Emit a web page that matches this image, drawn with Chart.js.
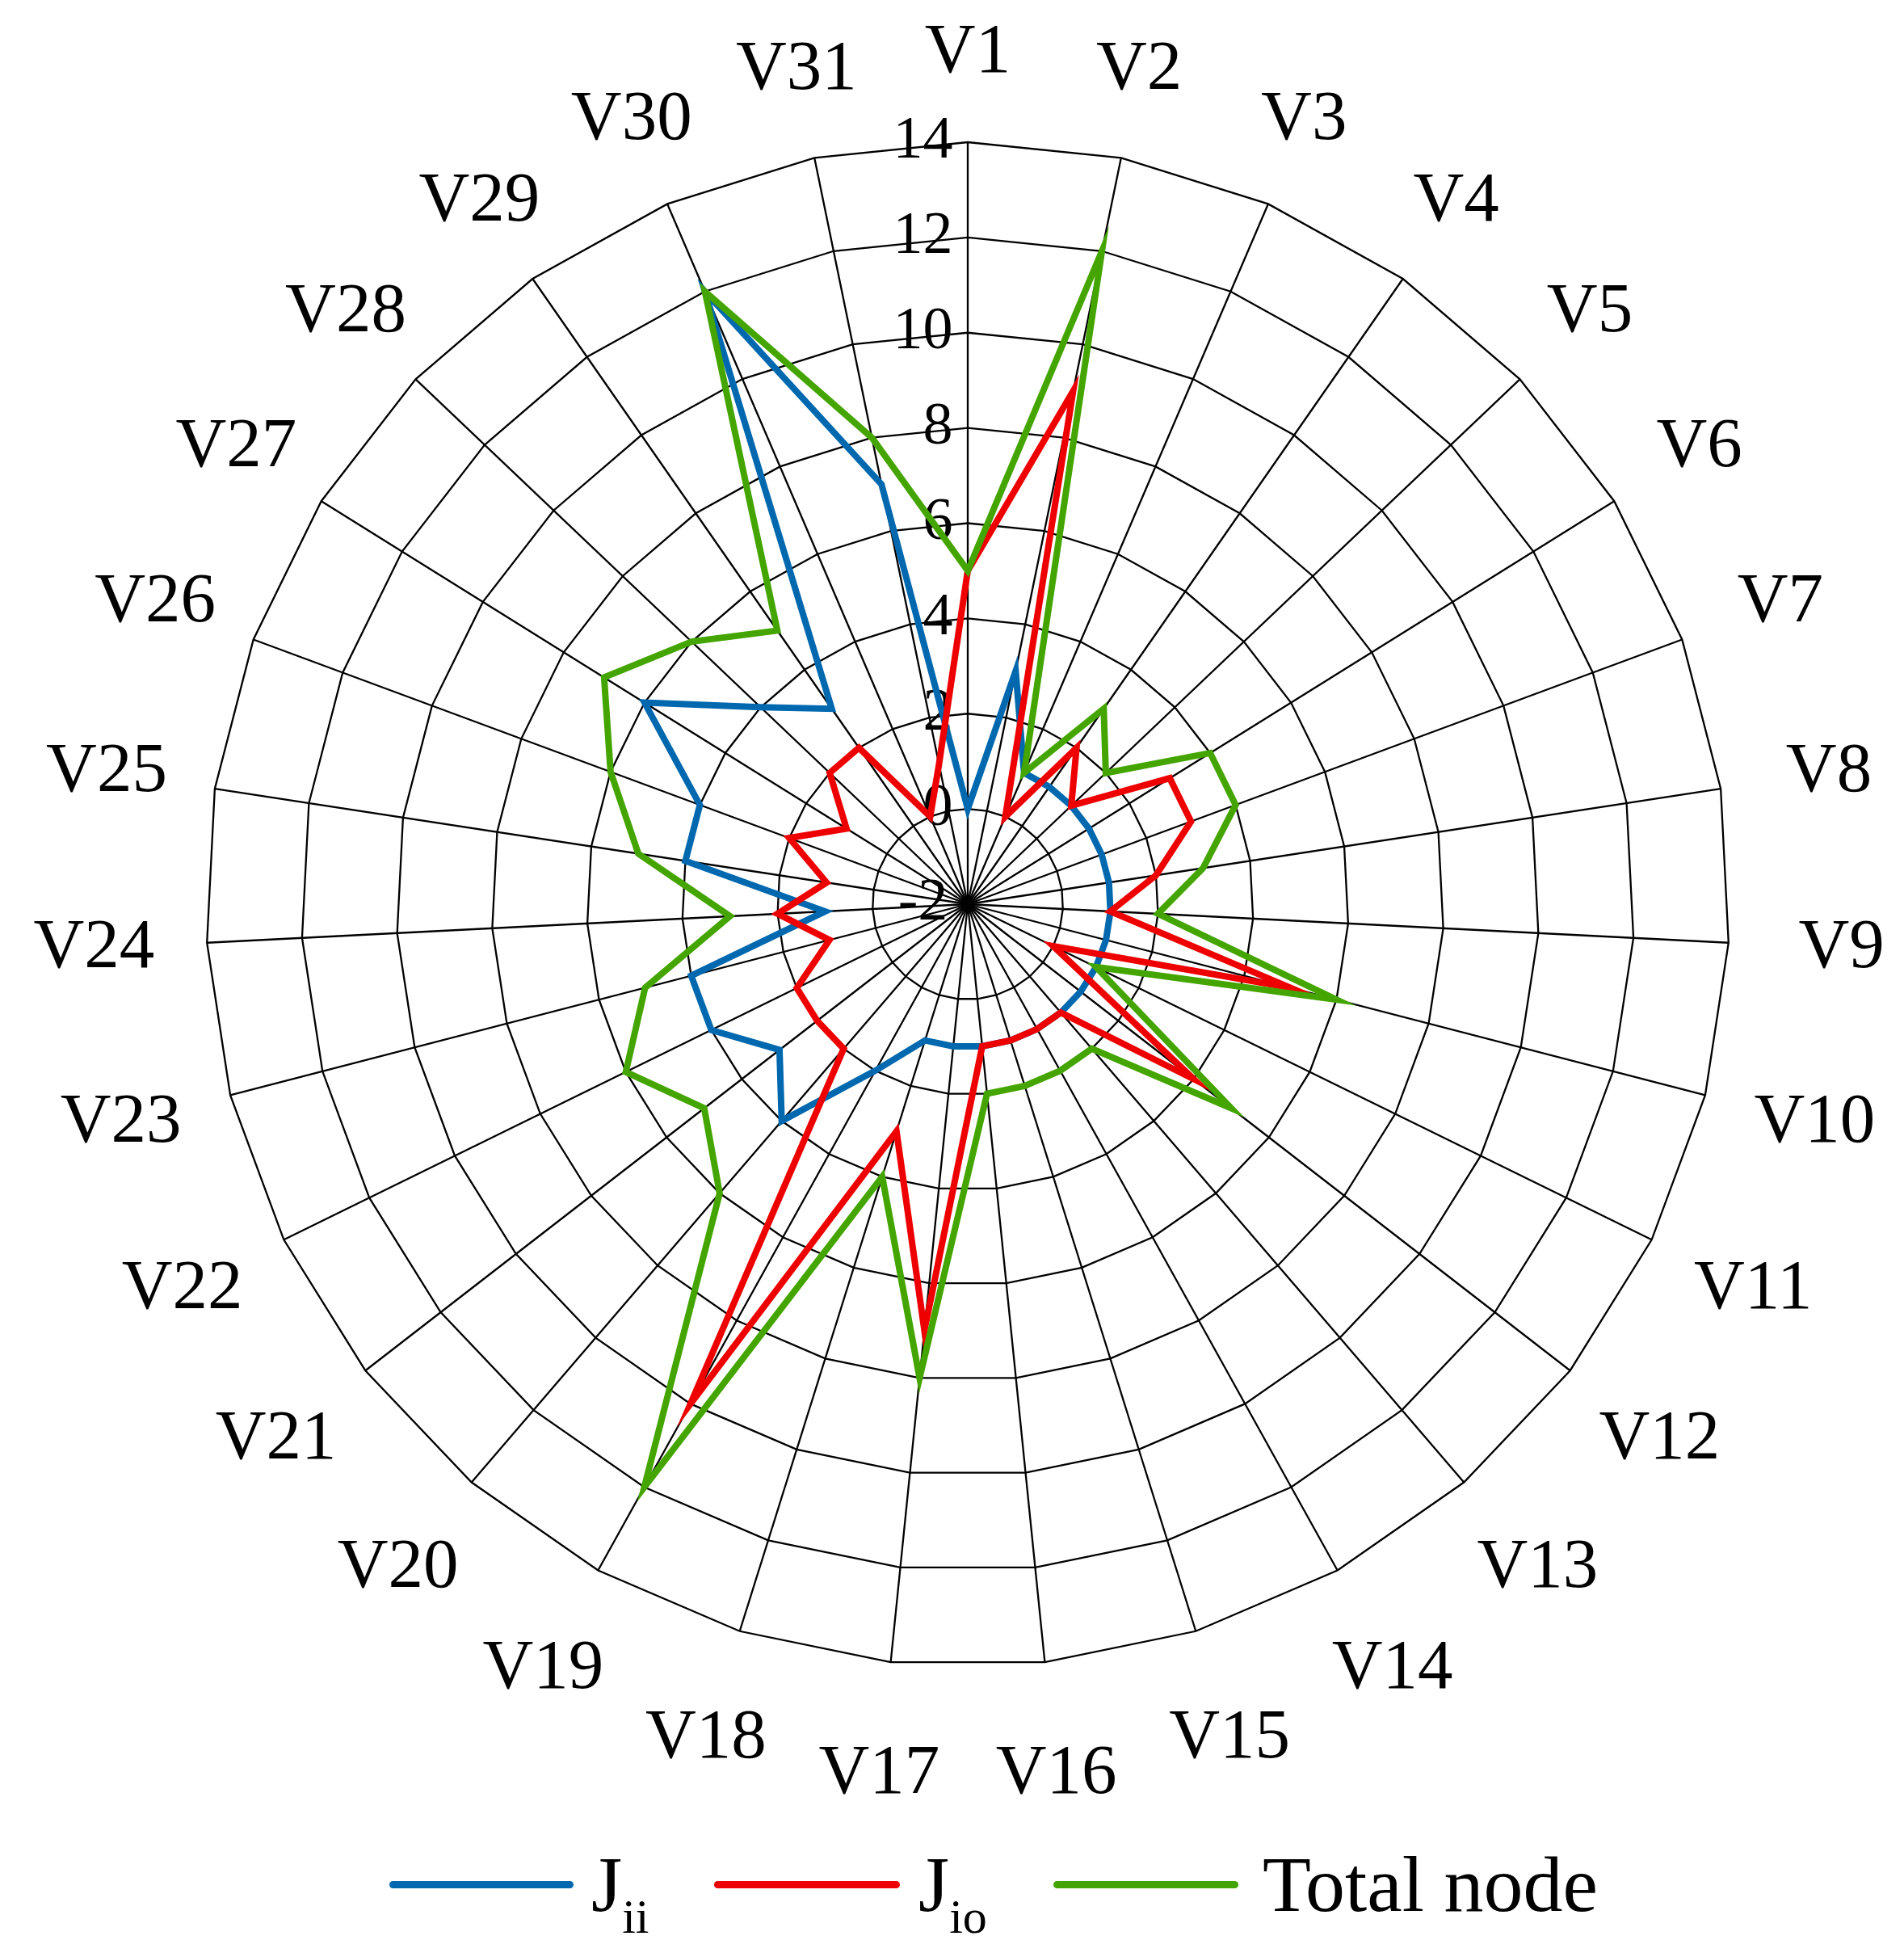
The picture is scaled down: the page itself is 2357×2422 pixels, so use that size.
<!DOCTYPE html>
<html>
<head>
<meta charset="utf-8">
<script src="https://cdn.jsdelivr.net/npm/chart.js@4/dist/chart.umd.min.js"></script>
<style>
  html, body { margin: 0; padding: 0; background: #fff; }
  body { width: 2357px; height: 2422px; overflow: hidden; position: relative; font-family: "Liberation Serif", "Times New Roman", serif; }
  #radar { position: absolute; left: 0; top: 0; }
  .leg-line { position: absolute; top: 2328px; height: 9px; border-radius: 5px; }
  .leg-text { position: absolute; top: 2283px; font-size: 98px; line-height: 98px; color: #000; white-space: nowrap; }
  .leg-text sub { font-size: 60px; vertical-align: -27px; line-height: 0; }
</style>
</head>
<body>
<canvas id="radar" width="2357" height="2422"></canvas>

<div class="leg-line" style="left:482px; width:228px; background:#0068AE;"></div>
<div class="leg-text" style="left:732px;">J<sub>ii</sub></div>
<div class="leg-line" style="left:884px; width:230px; background:#EE0000;"></div>
<div class="leg-text" style="left:1137px;">J<sub>io</sub></div>
<div class="leg-line" style="left:1304px; width:229px; background:#44A500;"></div>
<div class="leg-text" style="left:1563px;">Total node</div>

<script>
// Vértices V1..V31
const vertices = ['V1', 'V2', 'V3', 'V4', 'V5', 'V6', 'V7', 'V8', 'V9', 'V10',
    'V11', 'V12', 'V13', 'V14', 'V15', 'V16', 'V17', 'V18', 'V19', 'V20',
    'V21', 'V22', 'V23', 'V24', 'V25', 'V26', 'V27', 'V28', 'V29', 'V30', 'V31'];

// Séries
const jii   = [0, 3, 1, 1, 1, 1, 1, 1, 1, 1, 1, 1, 1, 1, 1, 1, 1, 1, 2, 4, 3, 4, 4, 1, 4, 4, 6, 4, 3, 12, 7];
const jio   = [5, 9, 0, 2, 1, 3, 3, 2, 1, 5, 0, 4, 1, 1, 1, 1, 7, 3, 10, 2, 2, 2, 1, 2, 1, 2, 1, 2, 2, 0, 1];
const total = [5, 12, 1, 3, 2, 4, 4, 3, 2, 6, 1, 5, 2, 2, 2, 2, 8, 4, 12, 6, 5, 6, 5, 3, 5, 6, 7, 6, 5, 12, 8];

// Eixo radial
const eixoMin = -2;
const eixoMax = 14;
const eixoPasso = 2;

const serif = "'Liberation Serif', 'Times New Roman', serif";

function serie(label, data, cor, ordem) {
    return {
        label: label,
        data: data,
        borderColor: cor,
        backgroundColor: cor,
        borderWidth: 8,
        fill: false,
        pointRadius: 0,
        pointHoverRadius: 0,
        tension: 0,
        order: ordem
    };
}

// Rótulos dos vértices centrados na direção de cada eixo (estilo Excel)
const rotulosVertices = {
    id: 'rotulosVertices',
    beforeDatasetsDraw(chart) {
        const r = chart.scales.r;
        const c = chart.ctx;
        c.save();
        c.font = '87px ' + serif;
        c.fillStyle = '#000';
        c.textAlign = 'center';
        c.textBaseline = 'middle';
        chart.data.labels.forEach((txt, i) => {
            const cos = Math.cos(r.getIndexAngle(i));
            const dist = r.drawingArea + 110 + 30 * (1 - Math.max(0, cos));
            const p = r.getPointPosition(i, dist);
            c.fillText(txt, p.x, p.y);
        });
        c.restore();
    }
};

const ctx = document.getElementById('radar').getContext('2d');
const chart = new Chart(ctx, {
    type: 'radar',
    data: {
        labels: vertices,
        datasets: [
            serie('Jii', jii, '#0068AE', 2),
            serie('Jio', jio, '#EE0000', 1),
            serie('Total node', total, '#44A500', 0)
        ]
    },
    options: {
        responsive: false,
        animation: false,
        devicePixelRatio: 1,
        layout: {
            padding: { left: 216, right: 177, top: 137, bottom: 321 }
        },
        plugins: {
            legend: { display: false },
            tooltip: { enabled: false }
        },
        scales: {
            r: {
                min: eixoMin,
                max: eixoMax,
                beginAtZero: false,
                grid: { color: '#000', lineWidth: 2.3 },
                angleLines: { color: '#000', lineWidth: 2.3 },
                ticks: {
                    stepSize: eixoPasso,
                    showLabelBackdrop: false,
                    color: '#000',
                    font: { family: serif, size: 74 },
                    // rótulos à esquerda do eixo V1
                    callback: v => String(v) + ' '.repeat(2 * String(v).length + 2)
                },
                pointLabels: { display: false }
            }
        }
    },
    plugins: [rotulosVertices]
});
</script>
</body>
</html>
